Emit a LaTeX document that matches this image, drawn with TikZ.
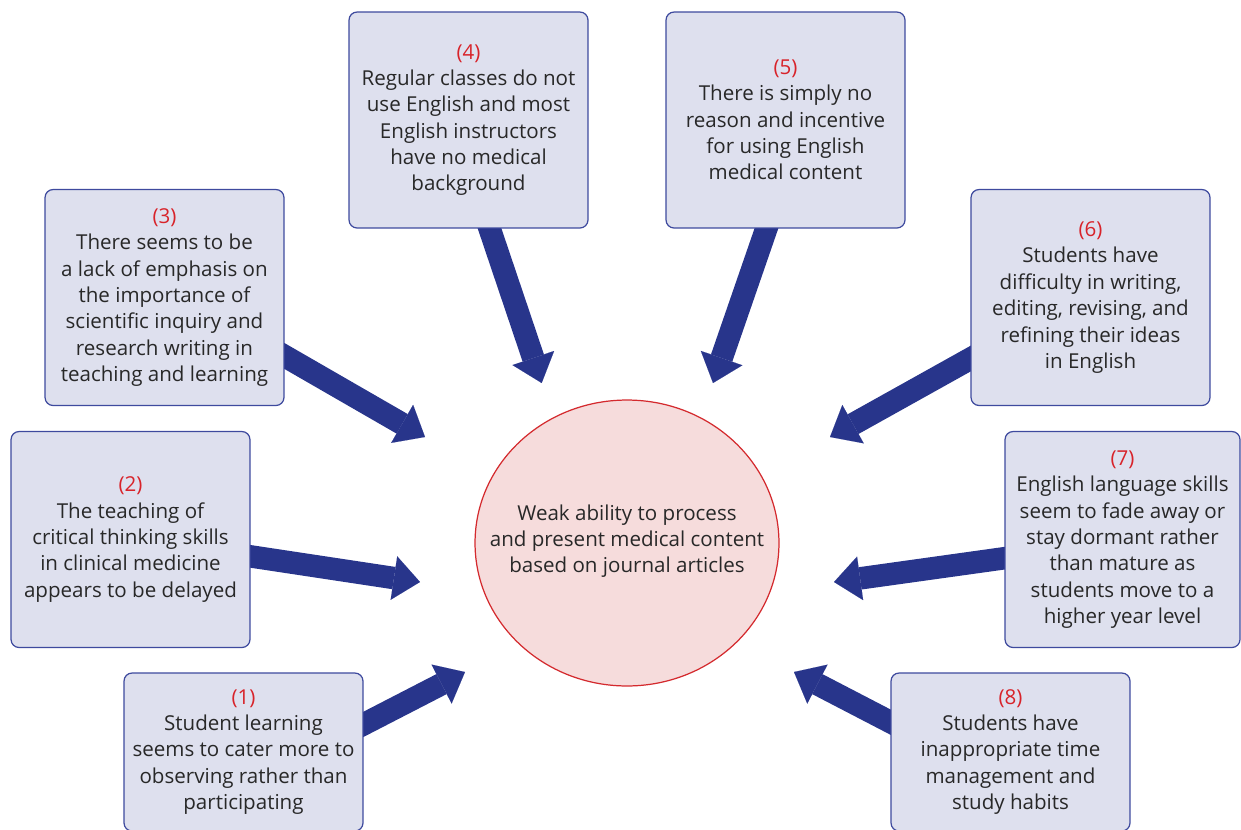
\documentclass[tikz,border=0pt]{standalone}
\usepackage{fontspec}
\newfontfamily\hopfont{Open Sans}
\usetikzlibrary{arrows.meta,shapes.geometric,backgrounds}
\definecolor{nenhop}{RGB}{222,224,238}
\definecolor{vienhop}{RGB}{62,74,158}
\definecolor{xanhmui}{RGB}{40,53,139}
\definecolor{nentam}{RGB}{246,220,220}
\definecolor{vientam}{RGB}{212,42,46}
\definecolor{sodo}{RGB}{216,35,42}
\definecolor{chu}{RGB}{40,40,40}
\begin{document}
\begin{tikzpicture}[x=0.02cm,y=-0.02cm,font=\hopfont\fontsize{11.7}{15}\selectfont,line join=round]
	\tikzset{hop/.style={draw=vienhop,fill=nenhop,line width=0.7pt,rounded corners=0.16cm,minimum width=4.78cm,minimum height=4.32cm,inner sep=0pt,align=center,text=chu},
		muiten/.style={draw=xanhmui,line width=12.8pt,-{Triangle[width=25pt,length=15pt,line width=0.01pt]},shorten <=-8pt}}
	\useasboundingbox(0,0)rectangle(1241,829);
	%%%%%%%%%%%%%% Tam
	\node[ellipse,draw=vientam,fill=nentam,line width=0.7pt,minimum width=6.08cm,minimum height=5.72cm,inner sep=0pt](tam) at (627,543){};
	\node[align=center,text=chu,inner sep=0pt](tamchu) at ([yshift=1pt]tam){Weak ability to process\\and present medical content\\based on journal articles};
	%%%%%%%%%%%%%% Cac hop
	\node[hop,minimum height=3.16cm](h1) at (243.5,752){{\color{sodo}(1)}\\Student learning\\seems to cater more to\\observing rather than\\participating};
	\node[hop](h2) at (130.5,539.5){{\color{sodo}(2)}\\The teaching of\\critical thinking skills\\in clinical medicine\\appears to be delayed};
	\node[hop](h3) at (164.5,297.5){{\color{sodo}(3)}\\There seems to be\\a lack of emphasis on\\the importance of\\scientific inquiry and\\research writing in\\teaching and learning};
	\node[hop](h4) at (468.5,120){{\color{sodo}(4)}\\Regular classes do not\\use English and most\\English instructors\\have no medical\\background};
	\node[hop](h5) at (785.5,120){{\color{sodo}(5)}\\There is simply no\\reason and incentive\\for using English\\medical content};
	\node[hop](h6) at (1090.5,297.5){{\color{sodo}(6)}\\Students have\\difficulty in writing,\\editing, revising, and\\refining their ideas\\in English};
	\node[hop,minimum width=4.7cm](h7) at (1122.5,539.5){{\color{sodo}(7)}\\English language skills\\seem to fade away or\\stay dormant rather\\than mature as\\students move to a\\higher year level};
	\node[hop,minimum height=3.16cm](h8) at (1010.5,752){{\color{sodo}(8)}\\Students have\\inappropriate time\\management and\\study habits};
	%%%%%%%%%%%%%% Mui ten
	\path(465,672)coordinate(m1)(420,582)coordinate(m2)(425,437)coordinate(m3)(541.7,383)coordinate(m4)
	(713,383)coordinate(m5)(830,437)coordinate(m6)(834,582)coordinate(m7)(794,672)coordinate(m8);
	\begin{scope}[on background layer]
		\draw[muiten](h1.13.2)--(m1);
		\draw[muiten](h2.-8.8)--(m2);
		\draw[muiten](h3.-26.1)--(m3);
		\draw[muiten](h4.-79.5)--(m4);
		\draw[muiten](h5.-100)--(m5);
		\draw[muiten](h6.-153.5)--(m6);
		\draw[muiten](h7.-171.5)--(m7);
		\draw[muiten](h8.166.8)--(m8);
	\end{scope}
\end{tikzpicture}
\end{document}
